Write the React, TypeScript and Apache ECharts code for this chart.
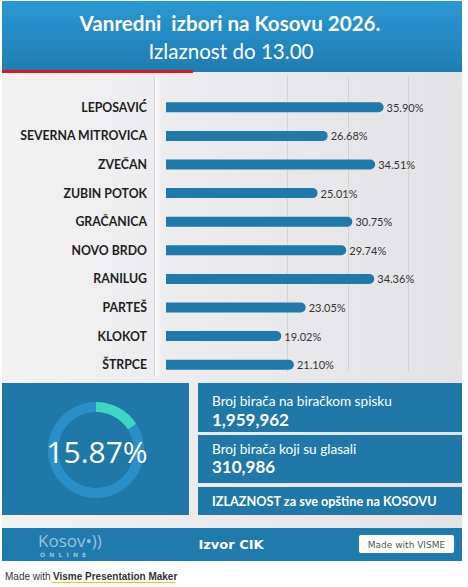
import React, { useEffect, useRef } from "react";
import * as echarts from "echarts";

// Turnout by municipality (percent)
const municipalities = [
  "LEPOSAVIĆ",
  "SEVERNA MITROVICA",
  "ZVEČAN",
  "ZUBIN POTOK",
  "GRAČANICA",
  "NOVO BRDO",
  "RANILUG",
  "PARTEŠ",
  "KLOKOT",
  "ŠTRPCE",
];
const turnoutPct = [35.9, 26.68, 34.51, 25.01, 30.75, 29.74, 34.36, 23.05, 19.02, 21.1];

// Kosovo-wide totals
const registeredVoters = 1959962;
const votersWhoVoted = 310986;
const overallTurnout = 15.87;

const titleLine1 = "Vanredni  izbori na Kosovu 2026.";
const titleLine2 = "Izlaznost do 13.00";
const sourceText = "Izvor CIK";

const BLUE = "#1f78a8";
const BAR = "#2079a9";
const GRID = "#d3d3d7";

export default function App() {
  const ref = useRef<HTMLDivElement>(null);

  useEffect(() => {
    if (!ref.current) return;
    const chart = echarts.init(ref.current, undefined, { renderer: "svg" });
    const fmt = (n: number) => n.toLocaleString("en-US");

    chart.setOption({
      animation: false,
      backgroundColor: "#ffffff",
      textStyle: { fontFamily: "Lato" },
      grid: [
        { left: 166, top: 93, width: 297, height: 286, containLabel: false },
        { left: 166, top: 76, width: 297, height: 296, containLabel: false },
      ],
      xAxis: [
        {
          gridIndex: 0,
          type: "value",
          min: 0,
          max: 49,
          interval: 10,
          axisLabel: { show: false },
          axisLine: { show: false },
          axisTick: { show: false },
          splitLine: { show: false },
        },
        {
          gridIndex: 1,
          type: "value",
          min: 0,
          max: 49,
          interval: 10,
          axisLabel: { show: false },
          axisLine: { show: false },
          axisTick: { show: false },
          splitLine: {
            show: true,
            showMinLine: true,
            showMaxLine: false,
            lineStyle: {
              width: 1,
              color: ["rgba(0,0,0,0)", "rgba(0,0,0,0)", GRID, GRID, GRID, "rgba(0,0,0,0)"],
            },
          },
        },
      ],
      yAxis: [
        {
          gridIndex: 0,
          type: "category",
          inverse: true,
          data: municipalities,
          axisLine: { show: false },
          axisTick: { show: false },
          splitLine: { show: false },
          axisLabel: {
            margin: 19,
            fontSize: 12.3,
            fontWeight: "bold",
            color: "#1e1e1e",
            fontFamily: "Lato",
          },
        },
        {
          gridIndex: 1,
          type: "category",
          data: municipalities,
          show: false,
        },
      ],
      series: [
        {
          type: "bar",
          xAxisIndex: 0,
          yAxisIndex: 0,
          data: turnoutPct,
          barWidth: 10,
          z: 5,
          itemStyle: { color: BAR, borderRadius: [0, 5, 5, 0] },
          label: {
            show: true,
            position: "right",
            distance: 3,
            fontSize: 11,
            color: "#333333",
            fontFamily: "Lato",
            formatter: (p: any) => `${Number(p.value).toFixed(2)}%`,
          },
          silent: true,
        },
        {
          type: "pie",
          center: [96, 450],
          radius: [38, 48],
          startAngle: 90,
          clockwise: true,
          silent: true,
          z: 5,
          label: { show: false },
          labelLine: { show: false },
          data: [
            { value: overallTurnout, itemStyle: { color: "#3dd6c2" } },
            { value: 100 - overallTurnout, itemStyle: { color: "#2a8fc8" } },
          ],
        },
      ],
      graphic: [
        // card background
        {
          type: "rect",
          z: -10,
          shape: { x: 2, y: 72, width: 460, height: 456 },
          style: {
            fill: new echarts.graphic.LinearGradient(0, 0, 1, 0, [
              { offset: 0, color: "#f2f2f3" },
              { offset: 1, color: "#e3e3e6" },
            ]),
          },
        },
        // label panel edge
        {
          type: "rect",
          z: -9,
          shape: { x: 155, y: 76, width: 7, height: 300 },
          style: {
            fill: new echarts.graphic.LinearGradient(0, 0, 1, 0, [
              { offset: 0, color: "rgba(255,255,255,0.7)" },
              { offset: 1, color: "rgba(255,255,255,0)" },
            ]),
          },
        },
        {
          type: "line",
          z: -9,
          shape: { x1: 154.5, y1: 76, x2: 154.5, y2: 376 },
          style: { stroke: "rgba(0,0,0,0.09)", lineWidth: 1 },
        },
        // header
        {
          type: "rect",
          z: -5,
          shape: { x: 2, y: 1, width: 460, height: 71 },
          style: {
            fill: new echarts.graphic.LinearGradient(0, 0, 0, 1, [
              { offset: 0, color: "#2a98d3" },
              { offset: 1, color: "#1f7cb2" },
            ]),
          },
        },
        {
          type: "rect",
          z: -4,
          shape: { x: 2, y: 70, width: 191, height: 3 },
          style: { fill: "#e3141d" },
        },
        {
          type: "text",
          z: 10,
          x: 230,
          y: 23,
          style: {
            text: titleLine1,
            fill: "#ffffff",
            font: "bold 20.6px Lato",
            align: "center",
            verticalAlign: "middle",
          },
        },
        {
          type: "text",
          z: 10,
          x: 231,
          y: 51,
          style: {
            text: titleLine2,
            fill: "#ffffff",
            font: "20.6px Lato",
            align: "center",
            verticalAlign: "middle",
          },
        },
        // summary boxes
        {
          type: "rect",
          z: -3,
          shape: { x: 2, y: 383, width: 187, height: 132 },
          style: { fill: BLUE },
        },
        {
          type: "rect",
          z: -3,
          shape: { x: 198, y: 383, width: 264, height: 49 },
          style: { fill: BLUE },
        },
        {
          type: "rect",
          z: -3,
          shape: { x: 198, y: 435, width: 264, height: 48 },
          style: { fill: BLUE },
        },
        {
          type: "rect",
          z: -3,
          shape: { x: 198, y: 487, width: 264, height: 28 },
          style: { fill: BLUE },
        },
        {
          type: "text",
          z: 10,
          x: 97,
          y: 451,
          style: {
            text: `${overallTurnout.toFixed(2)}%`,
            fill: "#ffffff",
            font: "30px 'Open Sans'",
            align: "center",
            verticalAlign: "middle",
          },
        },
        {
          type: "text",
          z: 10,
          x: 212,
          y: 401,
          style: {
            text: "Broj birača na biračkom spisku",
            fill: "#ffffff",
            font: "13.6px Lato",
            verticalAlign: "middle",
          },
        },
        {
          type: "text",
          z: 10,
          x: 212,
          y: 419,
          style: {
            text: fmt(registeredVoters),
            fill: "#ffffff",
            font: "bold 17px Lato",
            verticalAlign: "middle",
          },
        },
        {
          type: "text",
          z: 10,
          x: 212,
          y: 449,
          style: {
            text: "Broj birača koji su glasali",
            fill: "#ffffff",
            font: "13.6px Lato",
            verticalAlign: "middle",
          },
        },
        {
          type: "text",
          z: 10,
          x: 212,
          y: 466,
          style: {
            text: fmt(votersWhoVoted),
            fill: "#ffffff",
            font: "bold 17px Lato",
            verticalAlign: "middle",
          },
        },
        {
          type: "text",
          z: 10,
          x: 212,
          y: 501,
          style: {
            text: "IZLAZNOST za sve opštine na KOSOVU",
            fill: "#ffffff",
            font: "bold 12.7px Lato",
            verticalAlign: "middle",
          },
        },
        // footer
        {
          type: "rect",
          z: -3,
          shape: { x: 2, y: 528, width: 460, height: 33 },
          style: { fill: "#1f7aad" },
        },
        {
          type: "text",
          z: 10,
          x: 38,
          y: 540,
          style: {
            text: "Kosov•))",
            fill: "#9dc2d9",
            font: "17px 'Open Sans'",
            verticalAlign: "middle",
          },
        },
        {
          type: "text",
          z: 10,
          x: 40,
          y: 554,
          style: {
            text: "O  N  L  I  N  E",
            fill: "#9dc2d9",
            font: "bold 6px 'DejaVu Sans'",
            verticalAlign: "middle",
          },
        },
        {
          type: "text",
          z: 10,
          x: 231,
          y: 544,
          style: {
            text: sourceText,
            fill: "#ffffff",
            font: "bold 13px 'DejaVu Sans'",
            align: "center",
            verticalAlign: "middle",
          },
        },
        {
          type: "rect",
          z: 5,
          shape: { x: 359, y: 535, width: 95, height: 18, r: 2 },
          style: { fill: "#ffffff" },
        },
        {
          type: "text",
          z: 10,
          x: 406.5,
          y: 544.5,
          style: {
            text: "Made with VISME",
            fill: "#555555",
            font: "9px 'DejaVu Sans'",
            align: "center",
            verticalAlign: "middle",
          },
        },
        // attribution
        {
          type: "text",
          z: 10,
          x: 5,
          y: 576,
          style: {
            text: "Made with ",
            fill: "#333333",
            font: "10px 'Liberation Sans'",
            verticalAlign: "middle",
          },
        },
        {
          type: "text",
          z: 10,
          x: 53,
          y: 576,
          style: {
            text: "Visme Presentation Maker",
            fill: "#333333",
            font: "bold 10px 'Liberation Sans'",
            verticalAlign: "middle",
          },
        },
        {
          type: "line",
          z: 10,
          shape: { x1: 52, y1: 582.5, x2: 175, y2: 582.5 },
          style: { stroke: "#f4c21b", lineWidth: 1 },
        },
      ],
    });

    return () => chart.dispose();
  }, []);

  return (
    <div
      ref={ref}
      style={{ position: "fixed", left: 0, top: 0, width: 468, height: 587 }}
    />
  );
}
